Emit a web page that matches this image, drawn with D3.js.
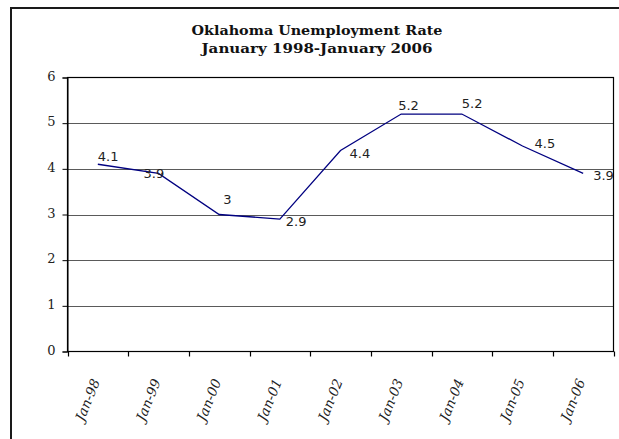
<!DOCTYPE html>
<html>
<head>
<meta charset="utf-8">
<script src="https://cdn.jsdelivr.net/npm/d3@7"></script>
<style>
  html, body { margin: 0; padding: 0; background: #fff; }
  svg { display: block; }
</style>
</head>
<body>
<svg id="chart" width="619" height="439"></svg>
<script>
// ---- data ----
const titleLines = ["Oklahoma Unemployment Rate", "January 1998-January 2006"];
const categories = ["Jan-98", "Jan-99", "Jan-00", "Jan-01", "Jan-02", "Jan-03", "Jan-04", "Jan-05", "Jan-06"];
const rates = [4.1, 3.9, 3, 2.9, 4.4, 5.2, 5.2, 4.5, 3.9];
const rateLabels = ["4.1", "3.9", "3", "2.9", "4.4", "5.2", "5.2", "4.5", "3.9"];
const yTicks = [0, 1, 2, 3, 4, 5, 6];

// ---- layout ----
const svg = d3.select("#chart");
const L = 67.5, R = 613.5, T = 77.5, B = 351.5;

// outer frame (right/bottom run off the picture)
svg.append("rect").attr("x", 11).attr("y", 8).attr("width", 640).attr("height", 460)
  .attr("fill", "#fff").attr("stroke", "#1a1a1a").attr("stroke-width", 2);

// title
const titleW = [251, 231];
svg.selectAll("text.title").data(titleLines).join("text")
  .attr("class", "title")
  .attr("x", 317).attr("y", (d, i) => 35 + i * 18)
  .attr("text-anchor", "middle")
  .attr("textLength", (d, i) => titleW[i]).attr("lengthAdjust", "spacingAndGlyphs")
  .style("font-family", "'DejaVu Serif', serif").style("font-weight", "bold").style("font-size", "12.5px")
  .attr("fill", "#111").text(d => d);

const x = d3.scaleBand().domain(categories).range([L, R]).padding(0);
const y = d3.scaleLinear().domain([0, 6]).range([B, T]);

// gridlines
svg.append("g").selectAll("line").data(yTicks.filter(t => t > 0 && t < 6)).join("line")
  .attr("x1", L).attr("x2", R)
  .attr("y1", d => Math.round(y(d)) + 0.5).attr("y2", d => Math.round(y(d)) + 0.5)
  .attr("stroke", "#5a5a5a").attr("stroke-width", 1.2);

// plot border
svg.append("rect").attr("x", L).attr("y", T).attr("width", R - L).attr("height", B - T)
  .attr("fill", "none").attr("stroke", "#000").attr("stroke-width", 1.2);

// y axis
const yAxis = d3.axisLeft(y).tickValues(yTicks).tickSize(5).tickPadding(7).tickFormat(d3.format("d"));
const gy = svg.append("g").attr("transform", `translate(${L},0)`).call(yAxis);
gy.select(".domain").attr("stroke", "#000");
gy.selectAll(".tick line").attr("stroke", "#000");
gy.selectAll(".tick text")
  .style("font-family", "'DejaVu Serif', serif").style("font-size", "13px").attr("fill", "#222")
  .attr("dy", "0.2em");

// x axis ticks at category boundaries
const bounds = categories.map(c => x(c)).concat([x.range()[1]]);
svg.append("g").selectAll("line").data(bounds).join("line")
  .attr("x1", d => Math.round(d) + 0.5).attr("x2", d => Math.round(d) + 0.5)
  .attr("y1", B).attr("y2", B + 5).attr("stroke", "#000").attr("stroke-width", 1.2);

// x labels
svg.append("g").selectAll("text").data(categories).join("text")
  .attr("transform", d => `translate(${x(d) + x.bandwidth() / 2 - 2},${B + 28}) rotate(-68)`)
  .attr("text-anchor", "end").attr("dy", "0.35em")
  .style("font-family", "'DejaVu Serif', serif").style("font-style", "italic").style("font-size", "13.5px")
  .attr("fill", "#222").text(d => d);

// line
const pts = categories.map((c, i) => [x(c) + x.bandwidth() / 2, y(rates[i])]);
svg.append("path").datum(pts)
  .attr("d", d3.line())
  .attr("fill", "none").attr("stroke", "#000080").attr("stroke-width", 1.3);

// data labels (placement nudges)
const nudge = [[0, -3], [-15, 5], [4, -11], [6, 7], [9, 7], [-3, -4], [0, -6], [12, 2], [10, 7]];
svg.append("g").selectAll("text").data(rateLabels).join("text")
  .attr("x", (d, i) => pts[i][0] + nudge[i][0])
  .attr("y", (d, i) => pts[i][1] + nudge[i][1])
  .style("font-family", "'DejaVu Sans', sans-serif").style("font-size", "13px")
  .attr("fill", "#222").text(d => d);
</script>
</body>
</html>
